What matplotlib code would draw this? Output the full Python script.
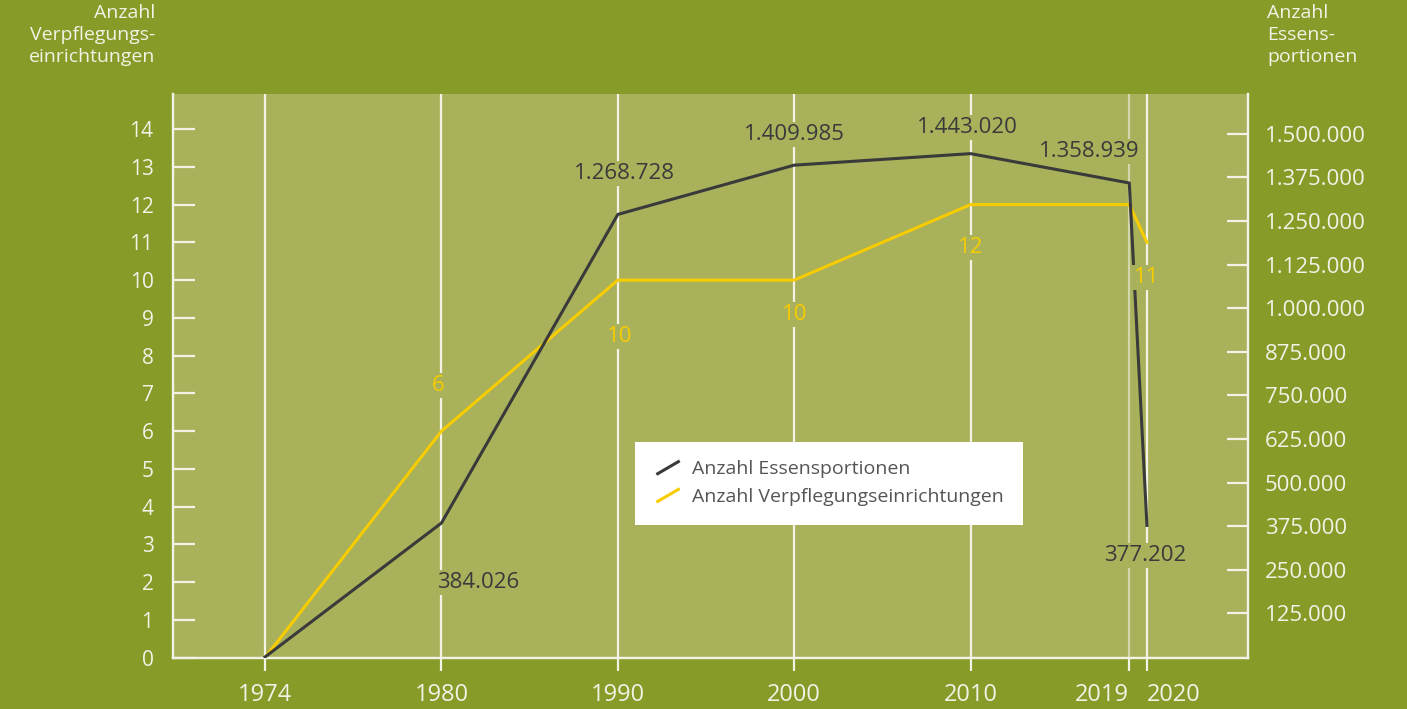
import matplotlib.pyplot as plt
from matplotlib.lines import Line2D
from matplotlib.legend_handler import HandlerLine2D

plt.rcParams['font.family'] = ['Open Sans', 'DejaVu Sans']

# Daten
jahre = ['1974', '1980', '1990', '2000', '2010', '2019', '2020']
x_pos = [1970, 1980, 1990, 2000, 2010, 2019, 2020]   # 1974 wird an der 1970er Stelle gezeichnet
portionen = [0, 384026, 1268728, 1409985, 1443020, 1358939, 377202]
einrichtungen = [0, 6, 10, 10, 12, 12, 11]
portionen_ticks = [125000 * i for i in range(1, 13)]

BG = '#869B28'
PLOT_BG = '#A9B15B'
WHITE = '#F2F2E6'
GELB = '#F7CC00'
DUNKEL = '#3A3A3A'


def fmt_de(v):
    return f'{v:,}'.replace(',', '.')


class HandlerDiagonal(HandlerLine2D):
    # kurze schraege Linie als Legendensymbol
    def create_artists(self, legend, orig_handle, xdescent, ydescent,
                       width, height, fontsize, trans):
        ln = Line2D([0.1 * width, 0.9 * width], [0.0, height * 1.0],
                    color=orig_handle.get_color(), lw=2.2,
                    solid_capstyle='butt', transform=trans)
        return [ln]


fig = plt.figure(figsize=(14.07, 7.09), dpi=100, facecolor=BG)
ax = fig.add_axes([173 / 1407, 1 - 658 / 709, 1075 / 1407, 564 / 709])
ax.set_facecolor(PLOT_BG)
ax2 = ax.twinx()

ax.set_xlim(1964.78, 2025.73)
ax.set_ylim(-0.01, 14.93)
ax2.set_ylim(-3000, 1614000)

# vertikale Linien
for x in x_pos:
    a = 0.6 if x == 2019 else 1.0
    ax.axvline(x, color=WHITE, lw=1.6, alpha=a, zorder=1)

ax.plot(x_pos, einrichtungen, color=GELB, lw=2.2, zorder=3)
ax2.plot(x_pos, portionen, color=DUNKEL, lw=2.2, zorder=3)

# Achsen
for a in (ax, ax2):
    a.spines['top'].set_visible(False)
    for s in ('left', 'right', 'bottom'):
        a.spines[s].set_color(WHITE)
        a.spines[s].set_linewidth(1.6)

ax.set_xticks(x_pos)
ax.set_xticklabels(jahre)
ax.tick_params(axis='x', direction='out', length=9, width=1.6, color=WHITE,
               labelcolor=WHITE, labelsize=17, pad=9)
lbls = ax.get_xticklabels()
lbls[5].set_horizontalalignment('right')
lbls[6].set_horizontalalignment('left')
ax.set_yticks(range(0, 15))
ax.tick_params(axis='y', direction='in', length=16, width=1.6, color=WHITE,
               labelcolor=WHITE, labelsize=15, pad=14)
ax2.set_yticks(portionen_ticks)
ax2.set_yticklabels([fmt_de(v) for v in portionen_ticks])
ax2.tick_params(axis='y', direction='in', length=15, width=1.6, color=WHITE,
                labelcolor=WHITE, labelsize=16, pad=12)

# Werte beschriften
box = dict(facecolor=PLOT_BG, edgecolor='none', pad=1.5)
offs_dunkel = [None, (37, -59), (7, 41), (0, 31), (-3, 26), (-40, 31), (-2, -30)]
offs_gelb = [None, (-3, 46), (2, -56), (0, -34), (0, -43), None, (0, -35)]
for i, (x, v) in enumerate(zip(x_pos, portionen)):
    if offs_dunkel[i] is None:
        continue
    ax2.annotate(fmt_de(v), (x, v), textcoords='offset pixels',
                 xytext=offs_dunkel[i], ha='center', va='center',
                 fontsize=16, color=DUNKEL, bbox=box, zorder=5)
for i, (x, v) in enumerate(zip(x_pos, einrichtungen)):
    if offs_gelb[i] is None:
        continue
    ax2.annotate(str(v), (x, v), xycoords=ax.transData,
                 textcoords='offset pixels', xytext=offs_gelb[i],
                 ha='center', va='center', fontsize=16, color=GELB,
                 bbox=box, zorder=5)

# Achsentitel
fig.text(155 / 1407, 1 - 4 / 709, 'Anzahl\nVerpflegungs-\neinrichtungen',
         ha='right', va='top', color=WHITE, fontsize=14, linespacing=1.3)
fig.text(1267 / 1407, 1 - 4 / 709, 'Anzahl\nEssens-\nportionen',
         ha='left', va='top', color=WHITE, fontsize=14, linespacing=1.3)

# Legende
h1 = Line2D([], [], color=DUNKEL)
h2 = Line2D([], [], color=GELB)
leg = ax2.legend([h1, h2], ['Anzahl Essensportionen', 'Anzahl Verpflegungseinrichtungen'],
                 handler_map={Line2D: HandlerDiagonal()},
                 loc='upper left', bbox_to_anchor=(635 / 1407, 1 - 442 / 709),
                 bbox_transform=fig.transFigure, frameon=True, fancybox=False,
                 framealpha=1, edgecolor='none', facecolor='white',
                 fontsize=14, labelcolor='#555555', handlelength=1.5,
                 handletextpad=0.5, borderpad=0.95, borderaxespad=0,
                 labelspacing=0.5)
leg.set_zorder(10)

fig.savefig('out.png', dpi=100, facecolor=BG)
